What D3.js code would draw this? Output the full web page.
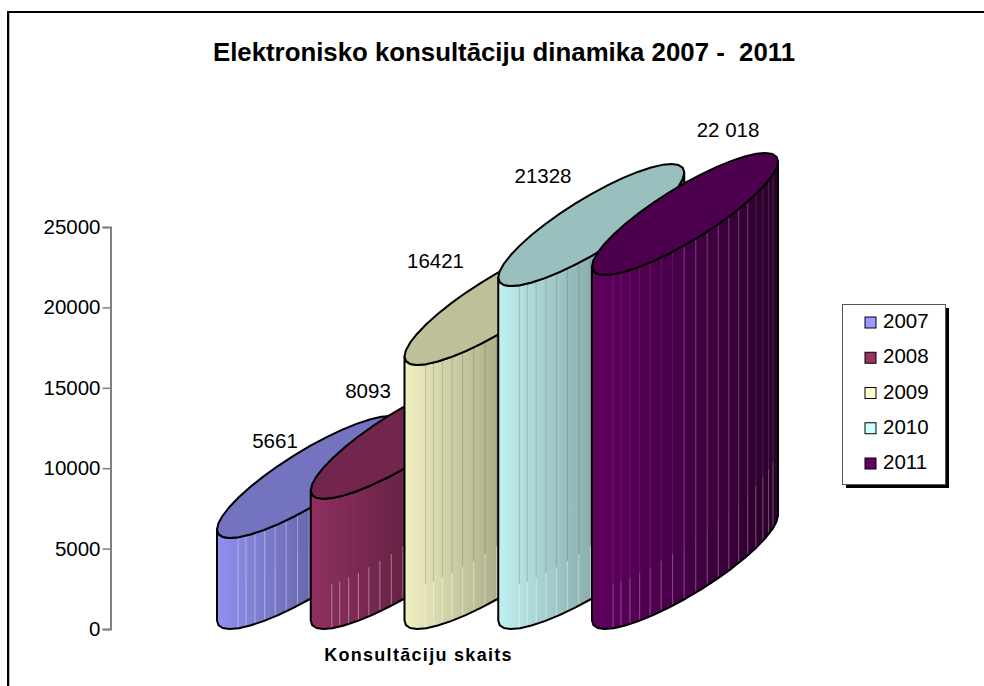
<!DOCTYPE html>
<html><head><meta charset="utf-8">
<script src="https://cdn.jsdelivr.net/npm/d3@7"></script>
<style>html,body{margin:0;padding:0;background:#fff}svg{display:block}text{font-family:"Liberation Sans",Arial,sans-serif;fill:#000;white-space:pre}</style>
</head><body><svg id="c" width="984" height="686"></svg>
<script>
const categories=["2007","2008","2009","2010","2011"];
const values=[5661,8093,16421,21328,22018];
const valueLabels=["5661","8093","16421","21328","22 018"];
const baseColors=["#9999FF","#993366","#FFFFCC","#CCFFFF","#660066"];
const yTicks=[0,5000,10000,15000,20000,25000];
const labelPos=[[275,448],[368,398],[435.5,268],[543,183],[728,137]];

const svg=d3.select("#c");
const y=d3.scaleLinear().domain([0,25000]).range([629,227]);
const x=d3.scalePoint().domain(categories).range([217,592]);
const a=93,b=31,shear=-0.565,drop=61;
const segs=18;
const ell=(cx,cy,t)=>[cx+a*Math.cos(t),cy+b*Math.sin(t)+shear*a*Math.cos(t)];
const line=d3.line();
const defs=svg.append("defs");
const shade=(c,f)=>d3.rgb(c.r*f,c.g*f,c.b*f);

// frame: top and left rules only
svg.append("line").attr("x1",7).attr("x2",984).attr("y1",12).attr("y2",12).attr("stroke","#000").attr("stroke-width",2);
svg.append("line").attr("x1",8).attr("x2",8).attr("y1",11).attr("y2",686).attr("stroke","#000").attr("stroke-width",2);
svg.append("line").attr("x1",9.5).attr("x2",9.5).attr("y1",13).attr("y2",686).attr("stroke","#bbb").attr("stroke-width",1);

svg.append("text").attr("x",504).attr("y",61).attr("text-anchor","middle").attr("font-size",25.8).attr("font-weight","bold").text("Elektronisko konsultāciju dinamika 2007 -  2011");

const axis=d3.axisLeft(y).tickValues(yTicks).tickFormat(d=>String(d)).tickSize(8).tickPadding(2);
const ga=svg.append("g").attr("transform","translate(110.5,0)").call(axis);
ga.selectAll("path,line").attr("stroke","#808080").attr("stroke-width",1.5);
ga.select("path").attr("stroke-width",2);
ga.selectAll("text").attr("font-size",20.5).style("font-family",'"Liberation Sans",Arial,sans-serif');

svg.append("text").attr("x",418.5).attr("y",661).attr("text-anchor","middle").attr("font-size",18).attr("letter-spacing",1.3).attr("font-weight","bold").text("Konsultāciju skaits");

categories.forEach((cat,i)=>{
  const left=x(cat),cx=left+a,base=y(0)-drop,top=y(values[i])-drop;
  const col=d3.color(baseColors[i]);
  const g=defs.append("linearGradient").attr("id","g"+i);
  g.append("stop").attr("offset",0).attr("stop-color",shade(col,.94));
  g.append("stop").attr("offset",1).attr("stop-color",shade(col,.42));
  const ts=d3.range(segs+1).map(k=>Math.PI*(1-k/segs));
  const bottom=ts.map(t=>ell(cx,base,t));
  const topFront=ts.map(t=>ell(cx,top,t)).reverse();
  svg.append("path").attr("d",line(bottom.concat(topFront))+"Z").attr("fill",`url(#g${i})`).attr("stroke","none");
  // facet stripes
  d3.range(18).forEach(k=>{
    const t=0.33+0.125*k;
    const pb=ell(cx,base,t),pt=ell(cx,top,t);
    const mid=Math.max(pt[1],pb[1]-44-1.3*(17-k));
    const w=.9;
    svg.append("line").attr("x1",pb[0]).attr("x2",pb[0]).attr("y1",pb[1]-1).attr("y2",mid).attr("stroke","#fff").attr("stroke-width",w).attr("stroke-opacity",i===4?.35:.45);
    const upper=(i===0)?["#fff",.4]:(i===4?["#fff",k>10?.1:(k>3?.3:.15)]:["#444",.25]);
    svg.append("line").attr("x1",pb[0]).attr("x2",pb[0]).attr("y1",mid).attr("y2",pt[1]+1).attr("stroke",upper[0]).attr("stroke-width",w).attr("stroke-opacity",upper[1]);
  });
  svg.append("path").attr("d",line(bottom.concat(topFront))+"Z").attr("fill","none").attr("stroke","#000").attr("stroke-width",2).attr("stroke-linejoin","round");
  const ring=d3.range(segs*2).map(k=>ell(cx,top,k/segs*Math.PI));
  svg.append("path").attr("d",line(ring)+"Z").attr("fill",shade(col,.75)).attr("stroke","#000").attr("stroke-width",2).attr("stroke-linejoin","round");
});

valueLabels.forEach((t,i)=>{
  svg.append("text").attr("x",labelPos[i][0]).attr("y",labelPos[i][1]).attr("text-anchor","middle").attr("font-size",20.5).text(t);
});

// legend
svg.append("rect").attr("x",846).attr("y",308).attr("width",103).attr("height",180).attr("fill","#000");
svg.append("rect").attr("x",842.5).attr("y",304.5).attr("width",103).attr("height",180).attr("fill","#fff").attr("stroke","#555").attr("stroke-width",1);
const ly=d3.scalePoint().domain(categories).range([321,462]);
categories.forEach((cat,i)=>{
  svg.append("rect").attr("x",865).attr("y",ly(cat)-4).attr("width",11).attr("height",11).attr("fill",baseColors[i]).attr("stroke","#000").attr("stroke-width",1);
  svg.append("text").attr("x",883).attr("y",ly(cat)+7).attr("font-size",20.5).text(cat);
});
</script></body></html>
